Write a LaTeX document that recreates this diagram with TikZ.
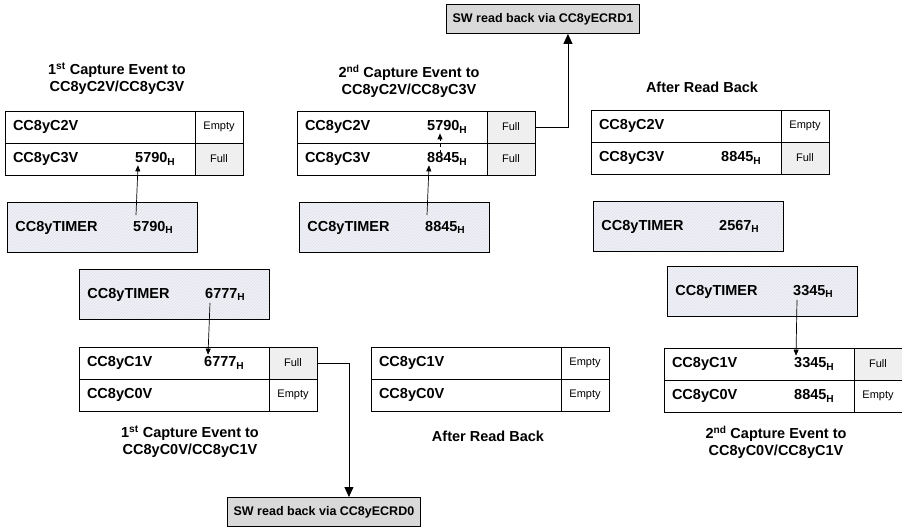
\documentclass[tikz,border=0pt]{standalone}
\usepackage{fontspec}
\setmainfont{Liberation Sans}
\usetikzlibrary{arrows.meta, positioning, patterns}
\definecolor{fullgray}{HTML}{EFEFEF}
\definecolor{swgray}{HTML}{D9D9D9}
\definecolor{tmrbg}{HTML}{F1F2F7}
\definecolor{tmrhatch}{HTML}{DDE0EA}
\newcommand{\hexv}[1]{#1\textsubscript{H}}

\begin{document}
\begin{tikzpicture}[x=1pt, y=-1pt,
  reg/.style={draw, line width=0.9pt, minimum width=190pt, minimum height=32pt,
              inner sep=0pt, outer sep=0pt, anchor=north west, text width=174pt,
              align=left, font=\fontsize{14.5}{17}\selectfont\bfseries},
  stat/.style={draw, line width=0.9pt, minimum width=48pt, minimum height=32pt,
               inner sep=0pt, outer sep=0pt, font=\fontsize{11}{13}\selectfont},
  val/.style={inner sep=0pt, anchor=west, font=\fontsize{14.5}{17}\selectfont\bfseries},
  tmr/.style={draw, line width=0.9pt, minimum width=190pt, minimum height=50pt,
              inner sep=0pt, anchor=north west, text width=174pt, align=left,
              preaction={fill=tmrbg}, pattern=north east lines, pattern color=tmrhatch,
              font=\fontsize{14.5}{17}\selectfont\bfseries},
  ttl/.style={align=center, font=\fontsize{14.5}{17}\selectfont\bfseries},
  swbox/.style={draw, line width=0.9pt, fill=swgray, minimum width=193pt,
                minimum height=29pt, anchor=north west,
                font=\fontsize{12.5}{15}\selectfont\bfseries},
  big/.style={-{Triangle[width=9pt,length=10pt]}, line width=0.9pt},
  small/.style={-{Triangle[width=5pt,length=6pt]}, line width=0.7pt}
]
\useasboundingbox (0,0) rectangle (902,530);

% 1st capture to C2V/C3V
\node[ttl] (ta) at (117,79) {1\textsuperscript{st} Capture Event to\\CC8yC2V/CC8yC3V};
\node[reg] (r2a) at (5,111) {CC8yC2V};
\node[stat, right=0pt of r2a] (s2a) {Empty};
\node[reg, below=0pt of r2a] (r3a) {CC8yC3V};
\node[stat, fill=fullgray, right=0pt of r3a] (s3a) {Full};
\node[val] (v3a) at ([xshift=130pt]r3a.west) {\hexv{5790}};
\node[tmr] (tma) at (7,202) {CC8yTIMER};
\node[val] (tva) at ([xshift=126pt]tma.west) {\hexv{5790}};
\draw[small] ([xshift=3pt,yshift=6pt]tva.north west) -- ([xshift=3pt]v3a.south west);

% 2nd capture to C2V/C3V
\node[ttl] (tb) at (409,81) {2\textsuperscript{nd} Capture Event to\\CC8yC2V/CC8yC3V};
\node[reg] (r2b) at (297,111) {CC8yC2V};
\node[stat, fill=fullgray, right=0pt of r2b] (s2b) {Full};
\node[reg, below=0pt of r2b] (r3b) {CC8yC3V};
\node[stat, fill=fullgray, right=0pt of r3b] (s3b) {Full};
\node[val] (v2b) at ([xshift=130pt]r2b.west) {\hexv{5790}};
\node[val] (v3b) at ([xshift=130pt]r3b.west) {\hexv{8845}};
\node[tmr] (tmb) at (299,202) {CC8yTIMER};
\node[val] (tvb) at ([xshift=126pt]tmb.west) {\hexv{8845}};
\node[swbox] (sw1) at (446,4) {SW read back via CC8yECRD1};
\draw[small] ([xshift=2pt,yshift=6pt]tvb.north west) -- ([xshift=2pt]v3b.south west);
\draw[small, dashed] ([xshift=13pt]v3b.north west) -- ([xshift=13pt]v2b.south west);
\draw[big] (s2b.east) -| ([xshift=25pt]sw1.south);

% after read back, C2V/C3V
\node[ttl] (tc) at (702,87) {After Read Back};
\node[reg] (r2c) at (591,110) {CC8yC2V};
\node[stat, right=0pt of r2c] (s2c) {Empty};
\node[reg, below=0pt of r2c] (r3c) {CC8yC3V};
\node[stat, fill=fullgray, right=0pt of r3c] (s3c) {Full};
\node[val] (v3c) at ([xshift=130pt]r3c.west) {\hexv{8845}};
\node[tmr] (tmc) at (593,201) {CC8yTIMER};
\node[val] (tvc) at ([xshift=126pt]tmc.west) {\hexv{2567}};

% 1st capture to C0V/C1V
\node[tmr] (tmd) at (79,269) {CC8yTIMER};
\node[val] (tvd) at ([xshift=126pt]tmd.west) {\hexv{6777}};
\node[reg] (r1d) at (79,347) {CC8yC1V};
\node[stat, fill=fullgray, right=0pt of r1d] (s1d) {Full};
\node[reg, below=0pt of r1d] (r0d) {CC8yC0V};
\node[stat, right=0pt of r0d] (s0d) {Empty};
\node[val] (v1d) at ([xshift=125pt]r1d.west) {\hexv{6777}};
\node[ttl] (td) at (190,442) {1\textsuperscript{st} Capture Event to\\CC8yC0V/CC8yC1V};
\node[swbox] (sw0) at (227,497) {SW read back via CC8yECRD0};
\draw[small] ([xshift=5pt,yshift=-2pt]tvd.south west) -- ([xshift=4pt,yshift=2pt]v1d.north west);
\draw[big] (s1d.east) -| ([xshift=25pt]sw0.north);

% after read back, C0V/C1V
\node[reg] (r1e) at (371,347) {CC8yC1V};
\node[stat, right=0pt of r1e] (s1e) {Empty};
\node[reg, below=0pt of r1e] (r0e) {CC8yC0V};
\node[stat, right=0pt of r0e] (s0e) {Empty};
\node[ttl] (te) at (488,436) {After Read Back};

% 2nd capture to C0V/C1V
\node[tmr] (tmf) at (667,266) {CC8yTIMER};
\node[val] (tvf) at ([xshift=126pt]tmf.west) {\hexv{3345}};
\node[reg] (r1f) at (664,348) {CC8yC1V};
\node[stat, fill=fullgray, right=0pt of r1f] (s1f) {Full};
\node[reg, below=0pt of r1f] (r0f) {CC8yC0V};
\node[stat, right=0pt of r0f] (s0f) {Empty};
\node[val] (v1f) at ([xshift=130pt]r1f.west) {\hexv{3345}};
\node[val] (v0f) at ([xshift=130pt]r0f.west) {\hexv{8845}};
\node[ttl] (tf) at (776,442) {2\textsuperscript{nd} Capture Event to\\CC8yC0V/CC8yC1V};
\draw[small] ([xshift=4pt,yshift=-2pt]tvf.south west) -- ([xshift=2pt,yshift=2pt]v1f.north west);
\end{tikzpicture}
\end{document}
